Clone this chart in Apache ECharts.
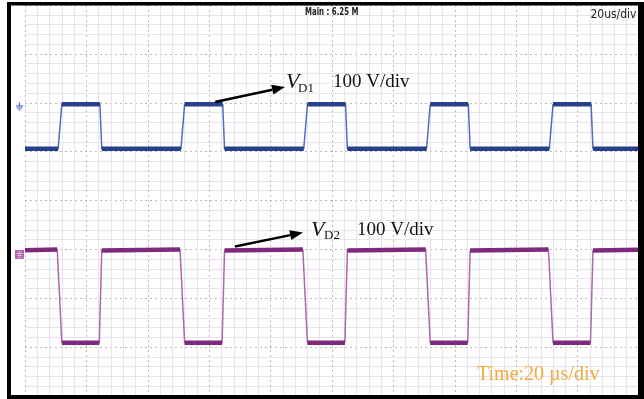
<!DOCTYPE html>
<html><head><meta charset="utf-8">
<script src="https://cdn.jsdelivr.net/npm/echarts@6/dist/echarts.min.js"></script>
<style>html,body{margin:0;padding:0;background:#fff}#c{width:644px;height:399px}</style>
</head><body><div id="c"></div>
<script>
// Time axis: 10 div x 20 us = 200 us ; vertical axis in screen divisions (8 div, 100 V/div)
const timeMin = 0, timeMax = 200, timeDiv = 20;
const divMin = 0, divMax = 8, divStep = 1;

// V_D1 (blue) corner points: time (us) and level (div)
const vd1Time  = [0, 10.8, 12.0, 24.4, 25.0, 50.8, 52.0, 64.4, 65.0, 90.8, 92.0, 104.4, 105.0, 130.8, 132.0, 144.4, 145.0, 170.8, 172.0, 184.4, 185.0, 200];
const vd1Level = [5.06, 5.06, 5.97, 5.97, 5.06, 5.06, 5.97, 5.97, 5.06, 5.06, 5.97, 5.97, 5.06, 5.06, 5.97, 5.97, 5.06, 5.06, 5.97, 5.97, 5.06, 5.06];

// V_D2 (purple) corner points
const vd2Time  = [0, 10.5, 12.0, 24.2, 25.0, 50.5, 52.0, 64.2, 65.0, 90.5, 92.0, 104.2, 105.0, 130.5, 132.0, 144.2, 145.0, 170.5, 172.0, 184.2, 185.0, 200];
const vd2Level = [2.98, 2.995, 1.09, 1.09, 2.975, 2.995, 1.09, 1.09, 2.975, 2.995, 1.09, 1.09, 2.975, 2.995, 1.09, 1.09, 2.975, 2.995, 1.09, 1.09, 2.975, 2.99];

const labelD1 = ['V', 'D1', '100 V/div'];
const labelD2 = ['V', 'D2', '100 V/div'];
const timeLabel = 'Time:20 \u00b5s/div';
const headerLeft = 'Main : 6.25 M';
const headerRight = '20us/div';

function pts(ts, vs) { return ts.map((t, i) => [t, vs[i]]); }
function flats(ts, vs) {
  const out = [];
  for (let i = 0; i < ts.length; i++) {
    out.push([ts[i], vs[i]]);
    if (i < ts.length - 1 && Math.abs(vs[i + 1] - vs[i]) > 0.3) out.push('-');
  }
  return out;
}
function arrow(x1, y1, x2, y2) {
  const dx = x2 - x1, dy = y2 - y1, L = Math.hypot(dx, dy);
  const ux = dx / L, uy = dy / L, nx = -uy, ny = ux;
  const hl = 13, hw = 5;
  const bx = x2 - hl * ux, by = y2 - hl * uy;
  return [
    { type: 'line', z: 50, shape: { x1: x1, y1: y1, x2: bx, y2: by }, style: { stroke: '#000', lineWidth: 2.4 } },
    { type: 'polygon', z: 50, shape: { points: [[x2, y2], [bx + hw * nx, by + hw * ny], [bx - hw * nx, by - hw * ny]] }, style: { fill: '#000' } }
  ];
}

const chart = echarts.init(document.getElementById('c'), null, { renderer: 'canvas' });
const serif = '"Liberation Serif", "Times New Roman", serif';

const axisCommon = {
  axisLabel: { show: false }, axisTick: { show: false }, axisLine: { show: false },
  splitLine: { show: true, lineStyle: { color: '#b9b9b9', width: 1, type: [2, 3] } },
  minorTick: { show: false, splitNumber: 5 },
  minorSplitLine: { show: true, lineStyle: { color: '#e9e1eb', width: 1 } }
};

const graphics = [
  // frame
  { type: 'rect', z: 60, shape: { x: 7, y: 2, width: 4, height: 397 }, style: { fill: '#000' } },
  { type: 'rect', z: 60, shape: { x: 7, y: 2, width: 636, height: 3.5 }, style: { fill: '#000' } },
  { type: 'rect', z: 60, shape: { x: 638, y: 2, width: 6, height: 397 }, style: { fill: '#000' } },
  { type: 'rect', z: 60, shape: { x: 7, y: 395, width: 637, height: 4 }, style: { fill: '#000' } },
  // header texts
  { type: 'text', z: 55, x: 305, y: 12, scaleX: 0.78, style: { text: headerLeft, font: 'bold 10px "DejaVu Sans Condensed", "DejaVu Sans"', fill: '#222', verticalAlign: 'middle', align: 'left' } },
  { type: 'text', z: 55, x: 636.5, y: 14.5, style: { text: headerRight, font: '12px "DejaVu Sans Condensed", "DejaVu Sans"', fill: '#222', verticalAlign: 'middle', align: 'right' } },
  // channel markers
  { type: 'line', z: 55, shape: { x1: 19.5, y1: 102.5, x2: 19.5, y2: 106 }, style: { stroke: '#4e6ec4', lineWidth: 1.2 } },
  { type: 'line', z: 55, shape: { x1: 16, y1: 106, x2: 23, y2: 106 }, style: { stroke: '#4e6ec4', lineWidth: 1.2 } },
  { type: 'line', z: 55, shape: { x1: 17, y1: 108, x2: 22, y2: 108 }, style: { stroke: '#4e6ec4', lineWidth: 1.2 } },
  { type: 'line', z: 55, shape: { x1: 18.5, y1: 110, x2: 20.5, y2: 110 }, style: { stroke: '#4e6ec4', lineWidth: 1.2 } },
  { type: 'rect', z: 55, shape: { x: 15, y: 250, width: 9, height: 9 }, style: { fill: '#b468b4' } },
  { type: 'line', z: 56, shape: { x1: 19.5, y1: 251, x2: 19.5, y2: 253.5 }, style: { stroke: '#e6c4e6', lineWidth: 1 } },
  { type: 'line', z: 56, shape: { x1: 16.5, y1: 253.5, x2: 22.5, y2: 253.5 }, style: { stroke: '#e6c4e6', lineWidth: 1 } },
  { type: 'line', z: 56, shape: { x1: 17.5, y1: 255.5, x2: 21.5, y2: 255.5 }, style: { stroke: '#e6c4e6', lineWidth: 1 } },
  { type: 'line', z: 56, shape: { x1: 18.5, y1: 257.5, x2: 20.5, y2: 257.5 }, style: { stroke: '#e6c4e6', lineWidth: 1 } },
  // labels
  { type: 'text', z: 55, x: 286, y: 82, style: { text: labelD1[0], font: 'italic 22px ' + serif, fill: '#111', verticalAlign: 'middle' } },
  { type: 'text', z: 55, x: 298, y: 88.5, style: { text: labelD1[1], font: '13px ' + serif, fill: '#111', verticalAlign: 'middle' } },
  { type: 'text', z: 55, x: 333, y: 82.5, style: { text: labelD1[2], font: '19px ' + serif, fill: '#111', verticalAlign: 'middle' } },
  { type: 'text', z: 55, x: 311, y: 230, style: { text: labelD2[0], font: 'italic 22px ' + serif, fill: '#111', verticalAlign: 'middle' } },
  { type: 'text', z: 55, x: 324, y: 235.5, style: { text: labelD2[1], font: '13px ' + serif, fill: '#111', verticalAlign: 'middle' } },
  { type: 'text', z: 55, x: 357, y: 230, style: { text: labelD2[2], font: '19px ' + serif, fill: '#111', verticalAlign: 'middle' } },
  { type: 'text', z: 55, x: 477, y: 375, style: { text: timeLabel, font: '20px ' + serif, fill: '#f2aa3a', verticalAlign: 'middle' } }
].concat(arrow(215, 102, 285, 87)).concat(arrow(235, 246.5, 303, 232.5));

chart.setOption({
  animation: false,
  backgroundColor: '#fff',
  grid: { left: 25, top: 5, width: 614, height: 391, show: false },
  xAxis: Object.assign({ type: 'value', min: timeMin, max: timeMax, interval: timeDiv }, axisCommon),
  yAxis: Object.assign({ type: 'value', min: divMin, max: divMax, interval: divStep }, axisCommon),
  series: [
    { type: 'line', name: 'VD1 edge', data: pts(vd1Time, vd1Level), showSymbol: false, silent: true, z: 3, lineStyle: { color: '#4d6cc0', width: 1.5 } },
    { type: 'line', name: 'VD1', data: flats(vd1Time, vd1Level), showSymbol: false, silent: true, connectNulls: false, z: 4, lineStyle: { color: '#283f8c', width: 4.5 } },
    { type: 'line', name: 'VD2 edge', data: pts(vd2Time, vd2Level), showSymbol: false, silent: true, z: 3, lineStyle: { color: '#b066b0', width: 1.5 } },
    { type: 'line', name: 'VD2', data: flats(vd2Time, vd2Level), showSymbol: false, silent: true, connectNulls: false, z: 4, lineStyle: { color: '#7e2a7c', width: 4.5 } }
  ],
  graphic: graphics
});
</script>
</body></html>
